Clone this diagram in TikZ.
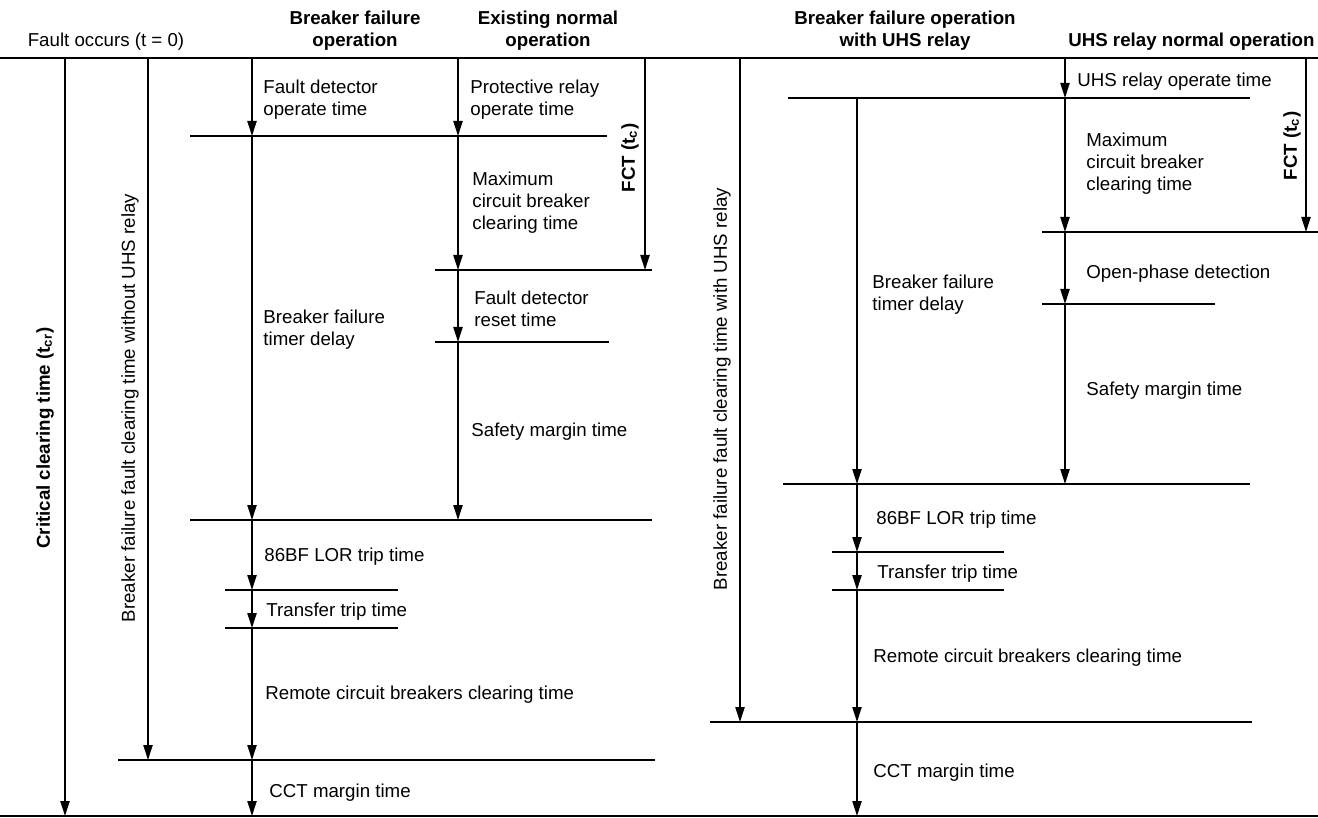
\documentclass[tikz,border=0pt]{standalone}
\usepackage{fontspec}
\setmainfont{Liberation Sans}
\usetikzlibrary{arrows.meta}
\newcommand{\lblfont}{\fontsize{9.35}{11}\selectfont}

\begin{document}
\begin{tikzpicture}[
  x=0.5pt,
  y=-0.5pt,
  every node/.style={font=\lblfont, inner sep=0pt},
  note/.style={anchor=west, align=left, yshift=-1pt},
  head/.style={font=\lblfont\bfseries, align=center, yshift=-0.8pt},
  tline/.style={line width=0.8pt},
  tarrow/.style={line width=0.8pt, -{Triangle[length=7.5pt, width=4.6pt]}}
]
  % ---- page frame ------------------------------------------------------
  \useasboundingbox (0,0) rectangle (1318,818);

  % ---- columns and time levels -----------------------------------------
  \coordinate (cct)  at (65,0);
  \coordinate (bfno) at (148,0);
  \coordinate (bf)   at (252,0);
  \coordinate (ex)   at (458,0);
  \coordinate (fct)  at (645,0);
  \coordinate (bfuh) at (740,0);
  \coordinate (bfr)  at (857,0);
  \coordinate (uhs)  at (1065,0);
  \coordinate (fctu) at (1306,0);

  \coordinate (t0)   at (0,58);
  \coordinate (tend) at (0,816);
  \coordinate (l136) at (0,136);
  \coordinate (l270) at (0,270);
  \coordinate (l342) at (0,342);
  \coordinate (l520) at (0,520);
  \coordinate (l590) at (0,590);
  \coordinate (l628) at (0,628);
  \coordinate (l760) at (0,760);
  \coordinate (r98)  at (0,98);
  \coordinate (r232) at (0,232);
  \coordinate (r304) at (0,304);
  \coordinate (r484) at (0,484);
  \coordinate (r552) at (0,552);
  \coordinate (r590) at (0,590);
  \coordinate (r722) at (0,722);

  % ---- headings --------------------------------------------------------
  \node (fault) at (106,42) {Fault occurs (t = 0)};
  \node[head] (hbf) at (355,29) {Breaker failure\\operation};
  \node[head] (hex) at (548,29) {Existing normal\\operation};
  \node[head] (hbfu) at (905,29) {Breaker failure operation\\with UHS relay};
  \node[head, anchor=east] (huhs) at (1315,40) {UHS relay normal operation};

  % ---- time axis: start and end ----------------------------------------
  \draw[tline] (0,58) -- (1318,58);
  \draw[tline] (0,816) -- (1318,816);

  % ---- left half: horizontal marks -------------------------------------
  \draw[tline] (190,136) -- (607,136);
  \draw[tline] (435,270) -- (652,270);
  \draw[tline] (435,342) -- (609,342);
  \draw[tline] (190,520) -- (652,520);
  \draw[tline] (225,590) -- (398,590);
  \draw[tline] (225,628) -- (398,628);
  \draw[tline] (118,760) -- (655,760);

  % ---- right half: horizontal marks ------------------------------------
  \draw[tline] (788,98) -- (1250,98);
  \draw[tline] (1042,232) -- (1318,232);
  \draw[tline] (1042,304) -- (1215,304);
  \draw[tline] (783,484) -- (1250,484);
  \draw[tline] (832,552) -- (1004,552);
  \draw[tline] (832,590) -- (1004,590);
  \draw[tline] (710,722) -- (1252,722);

  % ---- long spans ------------------------------------------------------
  \draw[tarrow] (cct |- t0) -- (cct |- tend);
  \draw[tarrow] (bfno |- t0) -- (bfno |- l760);
  \draw[tarrow] (fct |- t0) -- (fct |- l270);
  \draw[tarrow] (bfuh |- t0) -- (bfuh |- r722);
  \draw[tarrow] (fctu |- t0) -- (fctu |- r232);

  % ---- breaker failure operation ---------------------------------------
  \draw[tarrow] (bf |- t0) -- (bf |- l136);
  \draw[tarrow] (bf |- l136) -- (bf |- l520);
  \draw[tarrow] (bf |- l520) -- (bf |- l590);
  \draw[tarrow] (bf |- l590) -- (bf |- l628);
  \draw[tarrow] (bf |- l628) -- (bf |- l760);
  \draw[tarrow] (bf |- l760) -- (bf |- tend);

  % ---- existing normal operation ---------------------------------------
  \draw[tarrow] (ex |- t0) -- (ex |- l136);
  \draw[tarrow] (ex |- l136) -- (ex |- l270);
  \draw[tarrow] (ex |- l270) -- (ex |- l342);
  \draw[tarrow] (ex |- l342) -- (ex |- l520);

  % ---- breaker failure operation with UHS relay ------------------------
  \draw[tarrow] (bfr |- r98) -- (bfr |- r484);
  \draw[tarrow] (bfr |- r484) -- (bfr |- r552);
  \draw[tarrow] (bfr |- r552) -- (bfr |- r590);
  \draw[tarrow] (bfr |- r590) -- (bfr |- r722);
  \draw[tarrow] (bfr |- r722) -- (bfr |- tend);

  % ---- UHS relay normal operation --------------------------------------
  \draw[tarrow] (uhs |- t0) -- (uhs |- r98);
  \draw[tarrow] (uhs |- r98) -- (uhs |- r232);
  \draw[tarrow] (uhs |- r232) -- (uhs |- r304);
  \draw[tarrow] (uhs |- r304) -- (uhs |- r484);

  % ---- span labels -----------------------------------------------------
  \node[rotate=90, font=\lblfont\bfseries] (lcct) at (45,438)
    {Critical clearing time (t\textsubscript{cr})};
  \node[rotate=90] (lbfno) at (130,408)
    {Breaker failure fault clearing time without UHS relay};
  \node[rotate=90] (lbfuh) at (722,389)
    {Breaker failure fault clearing time with UHS relay};
  \node[rotate=90, font=\lblfont\bfseries] (lfct) at (630,158)
    {FCT (t\textsubscript{c})};
  \node[rotate=90, font=\lblfont\bfseries] (lfctu) at (1292,146)
    {FCT (t\textsubscript{c})};

  % ---- left half labels ------------------------------------------------
  \node[note] (fdop) at (263,98) {Fault detector\\operate time};
  \node[note] (prop) at (470,98) {Protective relay\\operate time};
  \node[note] (mcb) at (472,201) {Maximum\\circuit breaker\\clearing time};
  \node[note] (fdrs) at (474,307) {Fault detector\\reset time};
  \node[note] (bftd) at (263,328) {Breaker failure\\timer delay};
  \node[note] (smt) at (471,430) {Safety margin time};
  \node[note] (lor) at (264,555) {86BF LOR trip time};
  \node[note] (ttt) at (266,610) {Transfer trip time};
  \node[note] (rcb) at (265,693) {Remote circuit breakers clearing time};
  \node[note] (ccm) at (269,791) {CCT margin time};

  % ---- right half labels -----------------------------------------------
  \node[note] (uhsop) at (1077,80) {UHS relay operate time};
  \node[note] (mcbu) at (1086,162) {Maximum\\circuit breaker\\clearing time};
  \node[note] (bftdu) at (872,293) {Breaker failure\\timer delay};
  \node[note] (opd) at (1086,272) {Open-phase detection};
  \node[note] (smtu) at (1086,389) {Safety margin time};
  \node[note] (loru) at (876,518) {86BF LOR trip time};
  \node[note] (tttu) at (877,572) {Transfer trip time};
  \node[note] (rcbu) at (873,656) {Remote circuit breakers clearing time};
  \node[note] (ccmu) at (873,771) {CCT margin time};
\end{tikzpicture}
\end{document}
